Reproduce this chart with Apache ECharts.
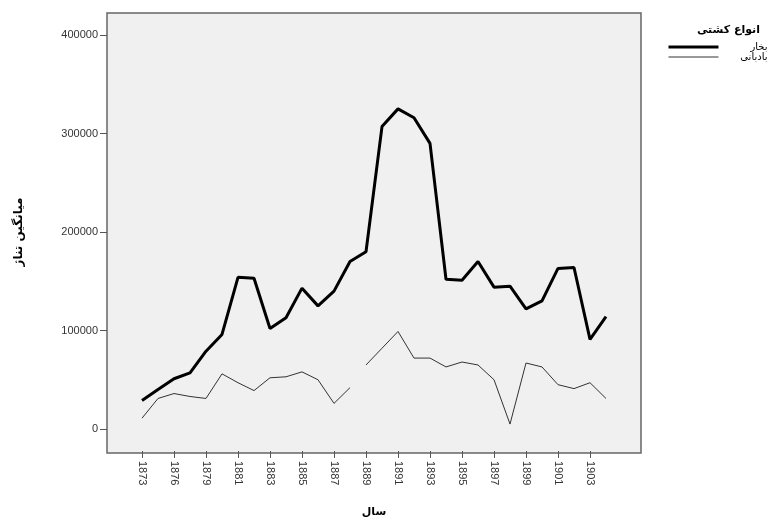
<!DOCTYPE html>
<html>
<head>
<meta charset="utf-8">
<script src="https://cdn.jsdelivr.net/npm/echarts@6/dist/echarts.min.js"></script>
<style>
  html, body { margin: 0; padding: 0; background: #fff; }
  #chart { width: 769px; height: 523px; }
</style>
</head>
<body>
<div id="chart"></div>
<script>
  // سال‌ها (هر دو سال یک برچسب)
  var years = [1873, 1875, 1876, 1877, 1879, 1880, 1881, 1882, 1883, 1884,
               1885, 1886, 1887, 1888, 1889, 1890, 1891, 1892, 1893, 1894,
               1895, 1896, 1897, 1898, 1899, 1900, 1901, 1902, 1903, 1904];

  // میانگین تناژ کشتی‌های بخار
  var steam = [29000, 40000, 51000, 57000, 79000, 96000, 154000, 153000, 102000, 113000,
               143000, 125000, 140000, 170000, 180000, 307000, 325000, 316000, 290000, 152000,
               151000, 170000, 144000, 145000, 122000, 130000, 163000, 164000, 91000, 114000];

  // میانگین تناژ کشتی‌های بادبانی (خط بین 1888 و 1889 قطع است)
  var sail = [11000, 31000, 36000, 33000, 31000, 56000, 47000, 39000, 52000, 53000,
              58000, 50000, 26000, 42000, 65000, 82000, 99000, 72000, 72000, 63000,
              68000, 65000, 50000, 5000, 67000, 63000, 45000, 41000, 47000, 31000];
  var sailBreak = 14;

  var FONT = "Liberation Sans, Arial, sans-serif";
  var FA_FONT = "DejaVu Sans, sans-serif";

  var sailEarly = sail.map(function (v, i) { return i < sailBreak ? v : null; });
  var sailLate = sail.map(function (v, i) { return i >= sailBreak ? v : null; });

  var chart = echarts.init(document.getElementById("chart"));
  chart.setOption({
    animation: false,
    backgroundColor: "#fff",
    title: {
      text: "انواع کشتی",
      right: 4,
      top: 20,
      textStyle: { fontFamily: FA_FONT, fontSize: 11, fontWeight: "bold", color: "#000" }
    },
    legend: {
      orient: "vertical",
      left: 662,
      top: 37,
      itemWidth: 50,
      itemHeight: 10,
      itemGap: 0,
      data: [
        { name: "بخار", lineStyle: { width: 3, color: "#000" } },
        { name: "بادبانی", lineStyle: { width: 1, color: "#333" } }
      ],
      itemStyle: { opacity: 0 },
      formatter: function (name) { return "{r|" + name + "}"; },
      textStyle: {
        fontFamily: FA_FONT, fontSize: 10, color: "#000",
        rich: { r: { width: 44, align: "right", fontFamily: FA_FONT, fontSize: 10 } }
      }
    },
    graphic: [{
      type: "rect",
      z: -1,
      shape: { x: 107, y: 13, width: 534, height: 440 },
      style: { fill: "#f0f0f0", stroke: "#666", lineWidth: 1.5 }
    }],
    grid: { left: 142, right: 163, top: 35, bottom: 92 },
    xAxis: {
      type: "category",
      data: years,
      boundaryGap: false,
      offset: 22,
      name: "سال",
      nameLocation: "middle",
      nameGap: 56,
      nameTextStyle: { fontFamily: FA_FONT, fontSize: 11, fontWeight: "bold", color: "#000" },
      axisLine: { show: false, onZero: false },
      axisTick: { show: true, interval: 1, length: 7, lineStyle: { color: "#555" } },
      axisLabel: { interval: 1, rotate: -90, margin: 10, fontSize: 11, fontFamily: FONT, color: "#333" },
      splitLine: { show: false }
    },
    yAxis: {
      type: "value",
      min: 0,
      max: 400000,
      interval: 100000,
      offset: 35,
      name: "میانگین تناژ",
      nameLocation: "middle",
      nameRotate: 90,
      nameGap: 82,
      nameTextStyle: { fontFamily: FA_FONT, fontSize: 12, fontWeight: "bold", color: "#000" },
      axisLine: { show: false, onZero: false },
      axisTick: { show: true, length: 7, lineStyle: { color: "#555" } },
      axisLabel: { margin: 9, fontSize: 11, fontFamily: FONT, color: "#333",
        formatter: function (v) { return String(v); } },
      splitLine: { show: false }
    },
    series: [
      { name: "بخار", type: "line", data: steam, symbol: "none",
        lineStyle: { color: "#000", width: 3 }, itemStyle: { color: "#000" } },
      { name: "بادبانی", type: "line", data: sailEarly, symbol: "none", connectNulls: false,
        lineStyle: { color: "#333", width: 1 }, itemStyle: { color: "#333" } },
      { name: "بادبانی", type: "line", data: sailLate, symbol: "none", connectNulls: false,
        lineStyle: { color: "#333", width: 1 }, itemStyle: { color: "#333" } }
    ]
  });
</script>
</body>
</html>
